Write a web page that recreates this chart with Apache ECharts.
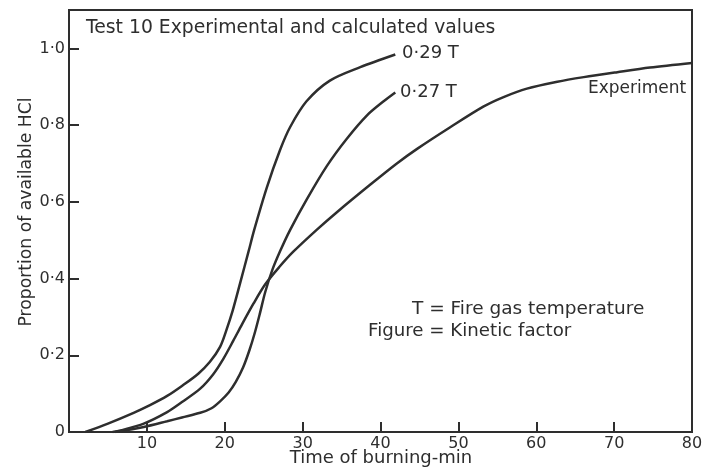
<!DOCTYPE html>
<html>
<head>
<meta charset="utf-8">
<script src="https://cdn.jsdelivr.net/npm/echarts@6/dist/echarts.min.js"></script>
<style>
html,body{margin:0;padding:0;background:#fff;}
#c{width:710px;height:468px;}
</style>
</head>
<body>
<div id="c"></div>
<script>
// ---- data ----
var xTicks = [10, 20, 30, 40, 50, 60, 70, 80];
var yTicks = [0, 0.2, 0.4, 0.6, 0.8, 1.0];

var k029X = [2.1, 5, 8.3, 10.4, 12.6, 14.5, 16.6, 18.1, 19.4, 20.2, 21.0, 22.0, 23.05, 23.8, 25.4, 27.1, 28.4, 30.5, 33.5, 37.4, 41.9];
var k029Y = [0, 0.022, 0.05, 0.07, 0.094, 0.12, 0.152, 0.183, 0.222, 0.265, 0.315, 0.39, 0.47, 0.528, 0.637, 0.735, 0.795, 0.862, 0.916, 0.951, 0.984];

var k027X = [5.9, 9.6, 12.6, 14.5, 16.85, 18.3, 19.4, 20.5, 21.4, 22.35, 23.2, 23.85, 24.5, 25.2, 26.1, 27.1, 28.4, 30.55, 33.1, 35.7, 38.3, 40.4, 41.9];
var k027Y = [0, 0.013, 0.028, 0.038, 0.05, 0.062, 0.08, 0.103, 0.13, 0.168, 0.215, 0.258, 0.308, 0.365, 0.422, 0.471, 0.527, 0.607, 0.693, 0.765, 0.826, 0.862, 0.885];

var expX = [5.6, 6.6, 9.6, 12.6, 14.5, 16.85, 18.5, 19.8, 21.1, 22.2, 23.7, 25.2, 27, 28.8, 31.8, 34.4, 38.7, 42.1, 44.7, 49, 53.2, 55.8, 58.8, 62.7, 66.1, 70.4, 74.6, 80];
var expY = [0, 0.004, 0.022, 0.052, 0.078, 0.113, 0.15, 0.19, 0.238, 0.28, 0.335, 0.385, 0.43, 0.47, 0.527, 0.573, 0.645, 0.70, 0.738, 0.795, 0.848, 0.873, 0.895, 0.913, 0.925, 0.938, 0.95, 0.962];

var titleText = 'Test 10 Experimental and calculated values';
var xName = 'Time of burning-min';
var yName = 'Proportion of available HCl';
var label029 = '0\u00b729 T';
var label027 = '0\u00b727 T';
var labelExp = 'Experiment';
var note1 = 'T = Fire gas temperature';
var note2 = 'Figure = Kinetic factor';

function zip(xs, ys) { return xs.map(function (x, i) { return [x, ys[i]]; }); }

var ink = '#2e2e2e';
var FF = '"DejaVu Sans", sans-serif';

var chart = echarts.init(document.getElementById('c'), null, {renderer: 'canvas'});

function lineSeries(name, data) {
  return {
    name: name, type: 'line', data: data, smooth: 0.3,
    showSymbol: false, symbol: 'none',
    lineStyle: {color: ink, width: 2.5},
    silent: true, animation: false
  };
}

chart.setOption({
  backgroundColor: '#ffffff',
  animation: false,
  grid: {left: 69, right: 18, top: 10, bottom: 36, show: true, borderColor: ink, borderWidth: 2, backgroundColor: 'transparent'},
  xAxis: {
    type: 'value', min: 0, max: 80, interval: 10,
    axisLine: {show: true, lineStyle: {color: ink, width: 2}},
    axisTick: {show: true, inside: true, length: 10, lineStyle: {color: ink, width: 2}},
    splitLine: {show: false},
    axisLabel: {
      color: ink, fontSize: 16, fontFamily: FF, margin: 4,
      formatter: function (v) { return xTicks.indexOf(v) >= 0 ? String(v) : ''; }
    }
  },
  yAxis: {
    type: 'value', min: 0, max: 1.1, interval: 0.2,
    axisLine: {show: true, lineStyle: {color: ink, width: 2}},
    axisTick: {show: true, inside: true, length: 10, lineStyle: {color: ink, width: 2}},
    splitLine: {show: false},
    axisLabel: {
      color: ink, fontSize: 16, fontFamily: FF, margin: 4,
      formatter: function (v) {
        var r = Math.round(v * 10) / 10;
        var ok = yTicks.some(function (t) { return Math.abs(t - v) < 1e-6; });
        if (!ok) return '';
        if (r === 0) return '0';
        return r.toFixed(1).replace('.', '\u00b7');
      }
    }
  },
  series: [
    lineSeries('0.29 T', zip(k029X, k029Y)),
    lineSeries('0.27 T', zip(k027X, k027Y)),
    lineSeries('Experiment', zip(expX, expY))
  ],
  graphic: [
    {type: 'text', x: 86, y: 28, style: {text: titleText, fill: ink, font: '18.8px ' + FF, verticalAlign: 'middle'}},
    {type: 'text', x: 402, y: 53, style: {text: label029, fill: ink, font: '18px ' + FF, verticalAlign: 'middle'}},
    {type: 'text', x: 400, y: 92, style: {text: label027, fill: ink, font: '18px ' + FF, verticalAlign: 'middle'}},
    {type: 'text', x: 588, y: 89, style: {text: labelExp, fill: ink, font: '17px ' + FF, verticalAlign: 'middle'}},
    {type: 'text', x: 412, y: 309, style: {text: note1, fill: ink, font: '18.5px ' + FF, verticalAlign: 'middle'}},
    {type: 'text', x: 368, y: 331, style: {text: note2, fill: ink, font: '18.2px ' + FF, verticalAlign: 'middle'}},
    {type: 'text', x: 381, y: 458, style: {text: xName, fill: ink, font: '18px ' + FF, align: 'center', verticalAlign: 'middle'}},
    {type: 'text', x: 27, y: 212, rotation: Math.PI / 2, style: {text: yName, fill: ink, font: '17.2px ' + FF, align: 'center', verticalAlign: 'middle'}}
  ]
});
</script>
</body>
</html>
